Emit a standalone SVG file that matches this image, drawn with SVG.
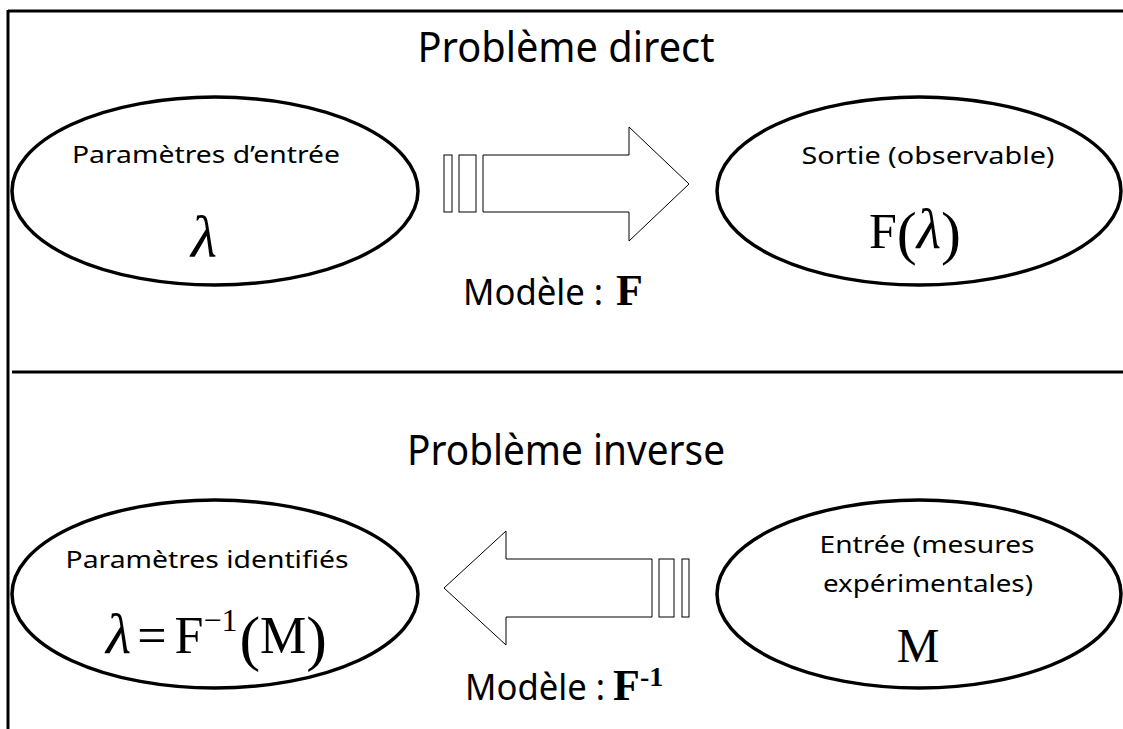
<svg xmlns="http://www.w3.org/2000/svg" width="1123" height="729" viewBox="0 0 1123 729">
<style>
.frame{stroke:#000;stroke-width:3;fill:none}
.node{stroke:#000;stroke-width:3.5;fill:#fff}
.arrow{stroke:#000;stroke-width:1;fill:#fff}
.sans{font-family:"Noto Sans","DejaVu Sans",sans-serif;fill:#000}
.math{font-family:"Liberation Serif","Times New Roman",serif;fill:#000}
</style>
<rect width="1123" height="729" fill="#fff"/>
<g id="frame">
<line class="frame" x1="8" y1="11" x2="1123" y2="11"/>
<line class="frame" x1="8" y1="10" x2="8" y2="729"/>
<line class="frame" x1="12" y1="372" x2="1123" y2="372"/>
</g>
<text class="sans" x="566" y="62" font-size="41" text-anchor="middle" textLength="297" lengthAdjust="spacingAndGlyphs">Problème direct</text>
<text class="sans" x="566" y="465" font-size="41" text-anchor="middle" textLength="318" lengthAdjust="spacingAndGlyphs">Problème inverse</text>
<g id="connectors">
<g id="arrow-direct">
<rect class="arrow" x="444" y="155" width="8" height="57"/>
<rect class="arrow" x="459" y="155" width="17" height="57"/>
<polygon class="arrow" points="483,155 629,155 629,127 689,184 629,241 629,212 483,212"/>
</g>
<g id="arrow-inverse">
<rect class="arrow" x="682" y="559" width="7" height="58"/>
<rect class="arrow" x="659" y="559" width="15" height="58"/>
<polygon class="arrow" points="652,559 506,559 506,531 444,588 506,645 506,617 652,617"/>
</g>
<text class="sans" x="463" y="305" font-size="37" textLength="140" lengthAdjust="spacingAndGlyphs">Modèle :</text>
<text class="math" x="616" y="305" font-size="44" font-weight="bold">F</text>
<text class="sans" x="465" y="700" font-size="37" textLength="140" lengthAdjust="spacingAndGlyphs">Modèle :</text>
<text class="math" x="613" y="700" font-size="44" font-weight="bold">F<tspan font-size="28" dy="-14">-1</tspan></text>
</g>
<g id="node-parametres-entree">
<ellipse class="node" cx="215" cy="191" rx="203" ry="94"/>
<text class="sans" x="206" y="163" font-size="23" text-anchor="middle" textLength="268" lengthAdjust="spacingAndGlyphs">Paramètres d’entrée</text>
<text class="math" x="204" y="257" font-size="60" font-style="italic" text-anchor="middle">λ</text>
</g>
<g id="node-sortie">
<ellipse class="node" cx="919" cy="191" rx="202" ry="94"/>
<text class="sans" x="928" y="164" font-size="23" text-anchor="middle" textLength="253" lengthAdjust="spacingAndGlyphs">Sortie (observable)</text>
<text class="math" x="869" y="248" font-size="50">F<tspan font-size="60" dy="5">(</tspan><tspan font-style="italic" font-size="56" dy="-5">λ</tspan><tspan font-size="60" dy="5">)</tspan></text>
</g>
<g id="node-parametres-identifies">
<ellipse class="node" cx="215" cy="594" rx="203" ry="94"/>
<text class="sans" x="207" y="568" font-size="23" text-anchor="middle" textLength="283" lengthAdjust="spacingAndGlyphs">Paramètres identifiés</text>
<text class="math" x="106" y="653" font-size="52"><tspan font-style="italic" font-size="58">λ</tspan><tspan dx="6">=</tspan><tspan dx="8">F</tspan><tspan font-size="32" dy="-22">−1</tspan><tspan font-size="62" dx="2" dy="28">(</tspan><tspan font-size="52" dy="-6">M</tspan><tspan font-size="62" dy="6">)</tspan></text>
</g>
<g id="node-entree-mesures">
<ellipse class="node" cx="919" cy="594" rx="202" ry="94"/>
<text class="sans" x="927" y="553" font-size="23" text-anchor="middle" textLength="215" lengthAdjust="spacingAndGlyphs">Entrée (mesures</text>
<text class="sans" x="928" y="592" font-size="23" text-anchor="middle" textLength="210" lengthAdjust="spacingAndGlyphs">expérimentales)</text>
<text class="math" x="918" y="662" font-size="48" text-anchor="middle">M</text>
</g>
</svg>
